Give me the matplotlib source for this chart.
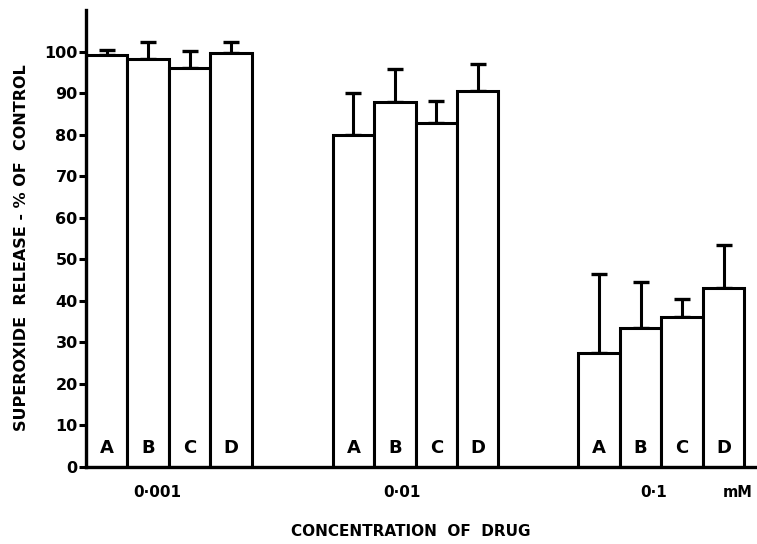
import matplotlib
matplotlib.use("Agg")
import matplotlib.pyplot as plt
from matplotlib.transforms import blended_transform_factory

# superoxide release, % of control
drugs = ["A", "B", "C", "D"]
conc_labels = ["0\u00b7001", "0\u00b701", "0\u00b71"]
values = [
    [99.2, 98.2, 96.1, 99.7],
    [79.8, 87.9, 82.8, 90.6],
    [27.4, 33.4, 36.2, 43.2],
]
err_up = [
    [1.1, 4.0, 4.0, 2.5],
    [10.2, 7.9, 5.2, 6.3],
    [19.1, 11.1, 4.2, 10.3],
]

group_start = [0.0, 5.95, 11.88]
label_shift = [-0.29, -0.34, -0.19]

plt.rcParams["font.family"] = ["DejaVu Sans"]
plt.rcParams["font.weight"] = "bold"

fig = plt.figure(figsize=(7.57, 5.44), dpi=100)
ax = fig.add_axes([86 / 757, 77 / 544, 1 - 86 / 757 - 0.001, 457 / 544])

for g, start in enumerate(group_start):
    xs = [start + 0.5 + i for i in range(4)]
    ax.bar(xs, values[g], width=1.0, color="white", edgecolor="black",
           linewidth=2.2, zorder=2)
    ax.errorbar(xs, values[g], yerr=[[0] * 4, err_up[g]], fmt="none",
                ecolor="black", elinewidth=2.2, capsize=6, capthick=2.4,
                zorder=1)
    for x, d in zip(xs, drugs):
        ax.text(x, 4.6, d, ha="center", va="center", fontsize=13,
                fontweight="bold", zorder=3)

trans = blended_transform_factory(ax.transData, ax.transAxes)
for g, start in enumerate(group_start):
    ax.text(start + 2 + label_shift[g], -0.056, conc_labels[g],
            transform=trans, ha="center", va="center", fontsize=11,
            fontweight="bold")
ax.text(15.73, -0.056, "mM", transform=trans, ha="center", va="center",
        fontsize=10.5, fontweight="bold")

ax.set_xlim(0, 671 / 41.5)
ax.set_ylim(0, 110)
ax.set_yticks(range(0, 101, 10))
ax.set_xticks([])
ax.tick_params(axis="y", direction="out", length=5, width=2.2, pad=1,
               labelsize=11.5)
for lab in ax.get_yticklabels():
    lab.set_fontweight("bold")
ax.spines["top"].set_visible(False)
ax.spines["right"].set_visible(False)
ax.spines["left"].set_linewidth(2.4)
ax.spines["bottom"].set_linewidth(2.4)

fig.text(22 / 757, 1 - 248 / 544, "SUPEROXIDE  RELEASE - % OF  CONTROL",
         rotation=90, ha="center", va="center", fontsize=11.5,
         fontweight="bold")
fig.text(411 / 757, 1 - 532 / 544, "CONCENTRATION  OF  DRUG",
         ha="center", va="center", fontsize=11, fontweight="bold")

fig.savefig("out.png", dpi=100, facecolor="white")
